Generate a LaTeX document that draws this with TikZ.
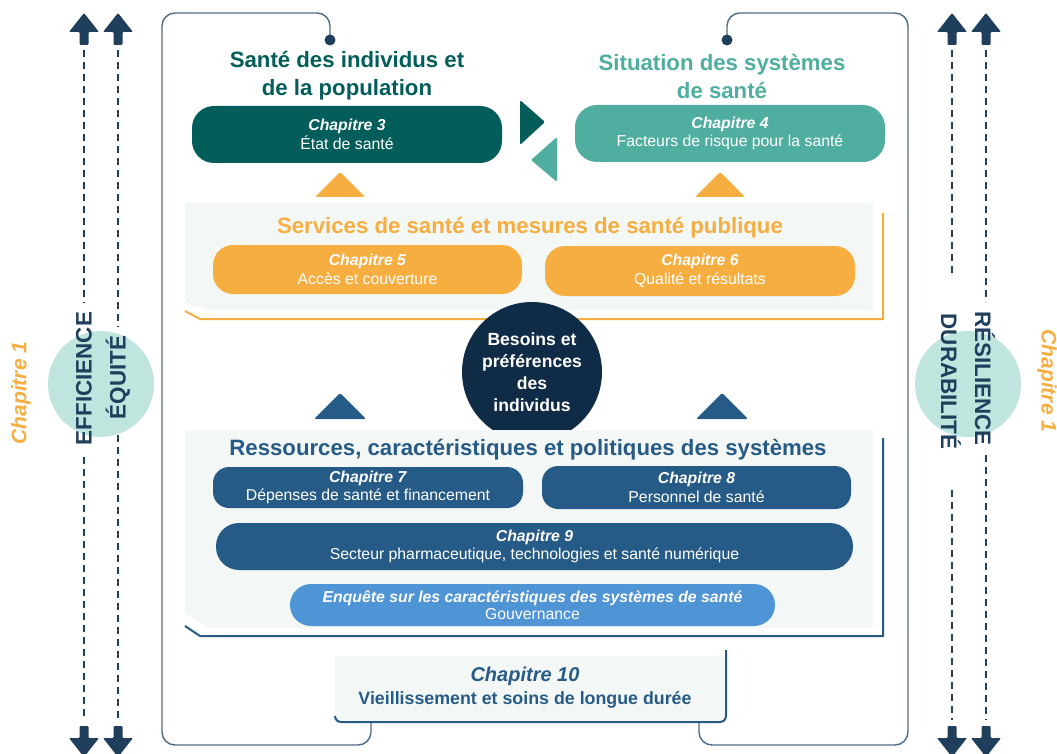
\documentclass[tikz,border=0pt]{standalone}
\usepackage{fontspec}
\setmainfont{Liberation Sans}
\definecolor{navy}{HTML}{1F3F5C}
\definecolor{dteal}{HTML}{035E5B}
\definecolor{lteal}{HTML}{4FAE9F}
\definecolor{orng}{HTML}{F7AE41}
\definecolor{blu}{HTML}{275B87}
\definecolor{lblu}{HTML}{4F94D4}
\definecolor{panel}{HTML}{F3F7F6}
\definecolor{circ}{HTML}{BFE5DE}
\definecolor{framec}{HTML}{4F6A85}
\definecolor{darkc}{HTML}{0F2B45}
\tikzset{
  pill/.style={rounded corners=#1, inner sep=0pt, text=white, align=center,
    font=\fontsize{15.8}{18.5}\selectfont},
  pill/.default=20pt,
  sectitle/.style={font=\fontsize{22.2}{28}\selectfont\bfseries, align=center},
  sidetext/.style={font=\fontsize{22.4}{24}\selectfont\bfseries, text=navy},
  chapone/.style={font=\fontsize{21}{24}\selectfont\bfseries\itshape, text=orng},
  dashline/.style={navy, line width=1.6pt, dash pattern=on 7pt off 5pt},
  uparrow/.pic={\fill[navy, rounded corners=1pt] (0,0) -- (15,19) -- (4.5,19) -- (4.5,32) -- (-4.5,32) -- (-4.5,19) -- (-15,19) -- cycle;},
  downarrow/.pic={\fill[navy, rounded corners=1pt] (0,0) -- (15,-19) -- (4.5,-19) -- (4.5,-31) -- (-4.5,-31) -- (-4.5,-19) -- (-15,-19) -- cycle;},
  tri/.style={rounded corners=1.5pt}
}
\begin{document}
\begin{tikzpicture}[x=1pt,y=-1pt]
\useasboundingbox (0,0) rectangle (1057,754);

% side circles
\fill[circ] (101,384) circle (53);
\fill[circ] (968,384) circle (53);

% side arrows
\foreach \x in {84,118,952,986}{
  \pic at (\x,13) {uparrow};
  \pic at (\x,757) {downarrow};
}
\coordinate (a1t) at (84,50);  \coordinate (a1m) at (84,303); \coordinate (a1n) at (84,457); \coordinate (a1b) at (84,720);
\coordinate (a2t) at (118,50); \coordinate (a2m) at (118,327); \coordinate (a2n) at (118,435); \coordinate (a2b) at (118,720);
\coordinate (a3t) at (952,50); \coordinate (a3m) at (952,278); \coordinate (a3n) at (952,490); \coordinate (a3b) at (952,720);
\coordinate (a4t) at (986,50); \coordinate (a4m) at (986,302); \coordinate (a4n) at (986,455); \coordinate (a4b) at (986,720);
\draw[dashline] (a1t) -- (a1m) (a1n) -- (a1b);
\draw[dashline] (a2t) -- (a2m) (a2n) -- (a2b);
\draw[dashline] (a3t) -- (a3m) (a3n) -- (a3b);
\draw[dashline] (a4t) -- (a4m) (a4n) -- (a4b);

\node[sidetext, rotate=90] (eff) at (84,378.5) {EFFICIENCE};
\node[sidetext, rotate=90] (equ) at (118,377.5) {ÉQUITÉ};
\node[sidetext, rotate=-90] (res) at (985,378.5) {RÉSILIENCE};
\node[sidetext, rotate=-90] (dur) at (951,381.5) {DURABILITÉ};
\node[chapone, rotate=90] (ch1l) at (21,393) {Chapitre 1};
\node[chapone, rotate=-90] (ch1r) at (1047,381) {Chapitre 1};

% main frame
\draw[framec, line width=1.4pt, rounded corners=13pt] (330,40) -- (330,13) -- (162,13) -- (162,745) -- (371,745) -- (371,722);
\draw[framec, line width=1.4pt, rounded corners=13pt] (727,40) -- (727,13) -- (908,13) -- (908,745) -- (699,745) -- (699,722);
\fill[navy] (330,40) circle (5.5);
\fill[navy] (727,40) circle (5.5);

% titles
\node[sectitle, text=dteal] (t1) at (347,76) {Santé des individus et\\de la population};
\node[sectitle, text=lteal] (t2) at (722,76) {Situation des systèmes\\de santé};

% top boxes
\node[pill=22pt, fill=dteal, minimum width=310pt, minimum height=57pt] (c3) at (347,134.5) {\textbf{\textit{Chapitre 3}}\\État de santé};
\node[pill=22pt, fill=lteal, minimum width=310pt, minimum height=57pt] (c4) at (730,133.5) {\textbf{\textit{Chapitre 4}}\\Facteurs de risque pour la santé};

% exchange triangles
\fill[dteal, tri] (520,100) -- (545,122) -- (520,145) -- cycle;
\fill[lteal, tri] (557,137) -- (531,160) -- (557,182) -- cycle;

% orange up triangles
\fill[orng, tri] (315,197) -- (340,172) -- (365,197) -- cycle;
\fill[orng, tri] (695,197) -- (720,172) -- (745,197) -- cycle;

% services panel
\fill[panel] (185,203) -- (873,203) -- (873,310) -- (208,310) -- (185,302) -- cycle;
\draw[orng, line width=2pt] (185,311) -- (200,319) -- (883,319) -- (883,213);
\node[sectitle, text=orng] (serv) at (530,228) {Services de santé et mesures de santé publique};
\node[pill=20pt, fill=orng, minimum width=309pt, minimum height=49pt] (c5) at (367.5,269.5) {\textbf{\textit{Chapitre 5}}\\Accès et couverture};
\node[pill=20pt, fill=orng, minimum width=310pt, minimum height=50pt] (c6) at (700,271) {\textbf{\textit{Chapitre 6}}\\Qualité et résultats};

% central circle
\node[circle, fill=darkc, minimum size=140pt, inner sep=0pt, text=white, align=center,
  font=\fontsize{17.6}{22}\selectfont\bfseries] (need) at (532,372) {Besoins et\\préférences\\des\\individus};

% blue up triangles
\fill[blu, tri] (314,419) -- (340,393) -- (366,419) -- cycle;
\fill[blu, tri] (696,419) -- (722,393) -- (748,419) -- cycle;

% resources panel
\fill[panel] (185,430) -- (873,430) -- (873,628) -- (208,628) -- (185,613) -- cycle;
\draw[blu, line width=2pt] (185,626) -- (200,636) -- (883,636) -- (883,438);
\node[sectitle, text=blu] (ress) at (528,450) {Ressources, caractéristiques et politiques des systèmes};
\node[pill=16pt, fill=blu, minimum width=310pt, minimum height=41pt] (c7) at (368,487.5) {\textbf{\textit{Chapitre 7}}\\Dépenses de santé et financement};
\node[pill=16pt, fill=blu, minimum width=309pt, minimum height=43pt] (c8) at (696.5,487.5) {\textbf{\textit{Chapitre 8}}\\Personnel de santé};
\node[pill=23pt, fill=blu, minimum width=637pt, minimum height=47pt] (c9) at (534.5,546.5) {\textbf{\textit{Chapitre 9}}\\Secteur pharmaceutique, technologies et santé numérique};
\node[pill=21pt, fill=lblu, minimum width=485pt, minimum height=42pt, font=\fontsize{15.8}{17}\selectfont] (enq) at (532.5,605) {\textbf{\textit{Enquête sur les caractéristiques des systèmes de santé}}\\Gouvernance};

% chapter 10
\fill[panel] (335,656) rectangle (726,722);
\draw[blu, line width=2pt, rounded corners=6pt] (726,650) -- (726,722) -- (335,722) -- (335,716);
\node[align=center, text=blu, font=\fontsize{17.8}{23}\selectfont\bfseries] (c10) at (525,688)
  {{\fontsize{20}{23}\selectfont\itshape Chapitre 10}\\Vieillissement et soins de longue durée};
\end{tikzpicture}
\end{document}
